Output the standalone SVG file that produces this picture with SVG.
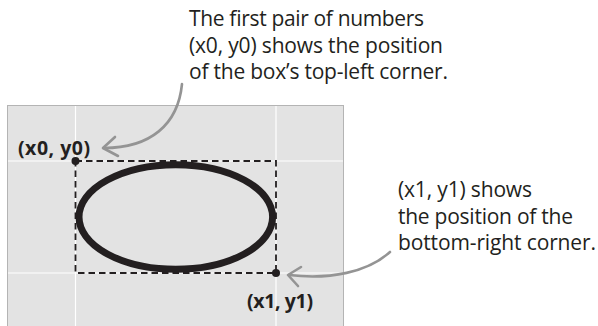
<svg xmlns="http://www.w3.org/2000/svg" width="598" height="326" viewBox="0 0 598 326">
<style>
.note{font-family:"Open Sans","Noto Sans","Liberation Sans",sans-serif;font-size:21px;fill:#231f20}
.lbl{font-family:"Open Sans","Noto Sans","Liberation Sans",sans-serif;font-size:19.5px;font-weight:bold;fill:#231f20}
.grid{stroke:#ffffff;stroke-width:1.2}
.arrow{fill:none;stroke:#949494;stroke-width:2.6;stroke-linecap:round;stroke-linejoin:round}
</style>
<rect width="598" height="326" fill="#ffffff"/>
<g id="panel">
<rect x="7.5" y="105.5" width="336" height="230" fill="#e3e3e3" stroke="#b4b4b4" stroke-width="1"/>
<line class="grid" x1="75.5" y1="106" x2="75.5" y2="326"/>
<line class="grid" x1="276" y1="106" x2="276" y2="326"/>
<line class="grid" x1="8" y1="161" x2="343" y2="161"/>
<line class="grid" x1="8" y1="273" x2="343" y2="273"/>
</g>
<g id="box">
<rect x="75.5" y="161" width="200.5" height="112" fill="none" stroke="#231f20" stroke-width="1.8" stroke-dasharray="6.5,4"/>
<ellipse cx="175.8" cy="217" rx="96.8" ry="52.3" fill="none" stroke="#231f20" stroke-width="7"/>
<circle cx="75.5" cy="161" r="4" fill="#231f20"/>
<circle cx="276" cy="273" r="4" fill="#231f20"/>
</g>
<g id="label-x0y0"><text class="lbl" x="18" y="155" textLength="72">(x0, y0)</text></g>
<g id="label-x1y1"><text class="lbl" x="247" y="308" textLength="66">(x1, y1)</text></g>
<g id="note-top">
<text class="note" x="189" y="26" textLength="235">The first pair of numbers</text>
<text class="note" x="189" y="52.5" textLength="254">(x0, y0) shows the position</text>
<text class="note" x="189" y="79" textLength="259">of the box’s top-left corner.</text>
</g>
<g id="note-right">
<text class="note" x="398" y="197" textLength="134">(x1, y1) shows</text>
<text class="note" x="398" y="223.5" textLength="175">the position of the</text>
<text class="note" x="398" y="250" textLength="198">bottom-right corner.</text>
</g>
<g id="connectors">
<path class="arrow" d="M182,84 C178,125 150,148 104,148"/>
<polyline class="arrow" points="115,137 103,148 118,156"/>
<path class="arrow" d="M390,252 C368,272 330,280 289,275"/>
<polyline class="arrow" points="301,267 288,275 298,286"/>
</g>
</svg>
